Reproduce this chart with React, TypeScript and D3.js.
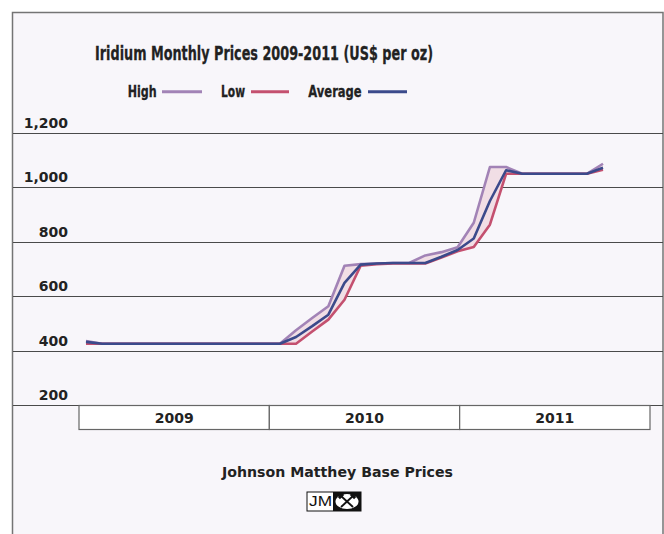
import React from "react";
import * as d3 from "d3";

const months = [
  "2009-01","2009-02","2009-03","2009-04","2009-05","2009-06","2009-07","2009-08","2009-09","2009-10","2009-11","2009-12",
  "2010-01","2010-02","2010-03","2010-04","2010-05","2010-06","2010-07","2010-08","2010-09","2010-10","2010-11","2010-12",
  "2011-01","2011-02","2011-03","2011-04","2011-05","2011-06","2011-07","2011-08","2011-09",
];
const high = [435,425,425,425,425,425,425,425,425,425,425,425,425,475,520,563,712,718,720,722,722,750,762,780,870,1075,1075,1050,1050,1050,1050,1050,1087];
const avg  = [432,425,425,425,425,425,425,425,425,425,425,425,425,450,490,532,649,716,720,722,722,722,745,770,812,950,1063,1050,1050,1050,1050,1050,1072];
const low  = [425,425,425,425,425,425,425,425,425,425,425,425,425,425,470,514,587,712,718,720,720,720,742,765,781,863,1050,1050,1050,1050,1050,1050,1065];
const yTicks = [200, 400, 600, 800, 1000, 1200];
const years = ["2009", "2010", "2011"];

const FONT = "'DejaVu Sans', sans-serif";
const C_HIGH = "#a283b6";
const C_LOW = "#c4506f";
const C_AVG = "#3b4a8b";

export default function App() {
  const x = d3.scaleLinear().domain([0, months.length - 1]).range([86, 603]);
  const y = d3.scaleLinear().domain([200, 1200]).range([405, 133]);
  const xb = d3.scaleBand().domain(years).range([79, 650]);
  const idx = months.map((_, i) => i);

  const area = d3.area<number>().x((i) => x(i)).y0((i) => y(low[i])).y1((i) => y(high[i]));
  const line = (arr: number[]) => d3.line<number>().x((i) => x(i)).y((i) => y(arr[i]))(idx) || "";
  const fmt = d3.format(",");

  return (
    <svg width={664} height={534} style={{ position: "absolute", left: 0, top: 0 }}>
      <rect x={0} y={0} width={664} height={534} fill="#ffffff" />
      <rect x={12.5} y={12.5} width={650.5} height={600} fill="#f8f6fa" stroke="#747474" strokeWidth={1.5} />

      <text x={95} y={60} fontFamily={FONT} fontWeight="bold" fontSize={19} fill="#222" stroke="#222" strokeWidth={0.3} textLength={338} lengthAdjust="spacingAndGlyphs">
        Iridium Monthly Prices 2009-2011 (US$ per oz)
      </text>

      {/* legend */}
      <text x={127.7} y={96.5} fontFamily={FONT} fontWeight="bold" fontSize={16} fill="#222" stroke="#222" strokeWidth={0.3} textLength={29} lengthAdjust="spacingAndGlyphs">High</text>
      <line x1={162} x2={202} y1={91.7} y2={91.7} stroke={C_HIGH} strokeWidth={3} />
      <text x={221} y={96.5} fontFamily={FONT} fontWeight="bold" fontSize={16} fill="#222" stroke="#222" strokeWidth={0.3} textLength={24} lengthAdjust="spacingAndGlyphs">Low</text>
      <line x1={251} x2={289} y1={91.7} y2={91.7} stroke={C_LOW} strokeWidth={3} />
      <text x={308.3} y={96.5} fontFamily={FONT} fontWeight="bold" fontSize={16} fill="#222" stroke="#222" strokeWidth={0.3} textLength={53.4} lengthAdjust="spacingAndGlyphs">Average</text>
      <line x1={368} x2={407} y1={91.7} y2={91.7} stroke={C_AVG} strokeWidth={3} />

      {/* gridlines + labels */}
      {yTicks.map((t) => (
        <g key={t}>
          <line x1={13} x2={663} y1={Math.round(y(t)) + 0.5} y2={Math.round(y(t)) + 0.5} stroke="#4a4a4a" strokeWidth={1} />
          <text x={68} y={y(t) - 5} textAnchor="end" fontFamily={FONT} fontWeight="bold" fontSize={14} fill="#222">
            {fmt(t)}
          </text>
        </g>
      ))}

      {/* data */}
      <path d={area(idx) || ""} fill="#f1dee5" />
      <path d={line(high)} fill="none" stroke={C_HIGH} strokeWidth={2.6} strokeLinejoin="round" />
      <path d={line(low)} fill="none" stroke={C_LOW} strokeWidth={2.6} strokeLinejoin="round" />
      <path d={line(avg)} fill="none" stroke={C_AVG} strokeWidth={2.6} strokeLinejoin="round" />

      {/* year boxes */}
      {years.map((yr) => (
        <g key={yr}>
          <rect x={xb(yr)!} y={405.5} width={xb.bandwidth()} height={24} fill="#ffffff" stroke="#666" strokeWidth={1.2} />
          <text x={xb(yr)! + xb.bandwidth() / 2} y={422.7} textAnchor="middle" fontFamily={FONT} fontWeight="bold" fontSize={14} fill="#222">
            {yr}
          </text>
        </g>
      ))}

      <text x={337.5} y={476.7} textAnchor="middle" fontFamily={FONT} fontWeight="bold" fontSize={14} fill="#222" textLength={231} lengthAdjust="spacingAndGlyphs">
        Johnson Matthey Base Prices
      </text>

      {/* JM logo */}
      <g>
        <rect x={307} y={492} width={54} height={19} fill="#ffffff" stroke="#111" strokeWidth={1} />
        <rect x={333} y={492} width={28} height={19} fill="#111" />
        <text x={309} y={506} fontFamily="'Liberation Sans', sans-serif" fontSize={15} fill="#111" textLength={23} lengthAdjust="spacingAndGlyphs">JM</text>
        <ellipse cx={347} cy={501.5} rx={11.5} ry={7.5} fill="#ffffff" />
        <line x1={341} y1={496} x2={353} y2={507} stroke="#111" strokeWidth={1.8} />
        <line x1={353} y1={496} x2={341} y2={507} stroke="#111" strokeWidth={1.8} />
        <rect x={338} y={494.5} width={6} height={3} fill="#111" transform="rotate(-45 341 496)" />
        <rect x={350} y={494.5} width={6} height={3} fill="#111" transform="rotate(45 353 496)" />
      </g>
    </svg>
  );
}
